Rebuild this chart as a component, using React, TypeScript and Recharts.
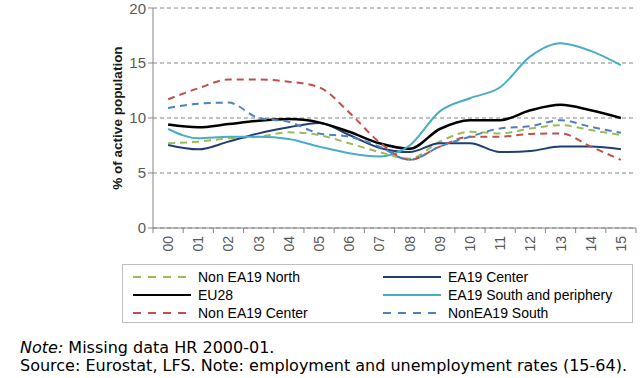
import { LineChart, Line, XAxis, YAxis, CartesianGrid } from 'recharts';

// years 2000-2015, % of active population
const years = ['00', '01', '02', '03', '04', '05', '06', '07', '08', '09', '10', '11', '12', '13', '14', '15'];
const nonEA19North = [7.7, 7.85, 8.15, 8.3, 8.7, 8.45, 7.7, 6.9, 6.3, 7.85, 8.75, 8.6, 9.05, 9.35, 8.9, 8.45];
const eu28 = [9.4, 9.15, 9.45, 9.75, 9.9, 9.6, 8.75, 7.7, 7.2, 9.0, 9.8, 9.8, 10.7, 11.2, 10.7, 10.0];
const nonEA19Center = [11.7, 12.7, 13.5, 13.5, 13.3, 12.8, 10.5, 7.8, 6.2, 7.4, 8.3, 8.3, 8.55, 8.6, 7.4, 6.2];
const ea19Center = [7.55, 7.15, 7.85, 8.6, 9.15, 9.55, 8.45, 7.3, 6.9, 7.7, 7.7, 6.9, 7.0, 7.4, 7.4, 7.15];
const ea19South = [9.0, 8.15, 8.3, 8.3, 8.1, 7.4, 6.8, 6.5, 7.5, 10.6, 11.8, 12.8, 15.6, 16.8, 16.1, 14.8];
const nonEA19South = [10.9, 11.3, 11.4, 10.0, 9.65, 8.6, 8.3, 7.4, 6.2, 7.4, 8.3, 9.05, 9.25, 9.8, 9.2, 8.65];
const yTicks = [0, 5, 10, 15, 20];

const series = [
  { key: 'nonEA19North', name: 'Non EA19 North', values: nonEA19North, color: '#9BBB59', dashed: true, width: 2 },
  { key: 'ea19Center', name: 'EA19 Center', values: ea19Center, color: '#1F3F73', dashed: false, width: 2 },
  { key: 'eu28', name: 'EU28', values: eu28, color: '#000000', dashed: false, width: 2.5 },
  { key: 'ea19South', name: 'EA19 South and periphery', values: ea19South, color: '#4BACC6', dashed: false, width: 2 },
  { key: 'nonEA19Center', name: 'Non EA19 Center', values: nonEA19Center, color: '#C0504D', dashed: true, width: 2 },
  { key: 'nonEA19South', name: 'NonEA19 South', values: nonEA19South, color: '#4F81BD', dashed: true, width: 2 },
];

const data = years.map((y, i) => {
  const row: Record<string, string | number> = { year: y };
  series.forEach((s) => { row[s.key] = s.values[i]; });
  return row;
});

const BAND = 483 / years.length;

const XTick = (props: any) => {
  const { x, y, payload, index } = props;
  return (
    <g>
      <line x1={x - BAND / 2} x2={x - BAND / 2} y1={y - 8} y2={y - 3} stroke="#868686" />
      {index === years.length - 1 && (
        <line x1={x + BAND / 2} x2={x + BAND / 2} y1={y - 8} y2={y - 3} stroke="#868686" />
      )}
      <text x={x + 5} y={y} transform={`rotate(-90, ${x + 5}, ${y})`} textAnchor="end"
        fontFamily="Liberation Sans, Arial" fontSize={14} fill="#595959">
        {payload.value}
      </text>
    </g>
  );
};

const LegendItem = ({ s }: { s: typeof series[number] }) => (
  <div style={{ display: 'flex', alignItems: 'center', height: 17.5 }}>
    <svg width={58} height={6} style={{ marginRight: 7 }}>
      <line x1={0} x2={58} y1={3} y2={3} stroke={s.color} strokeWidth={2}
        strokeDasharray={s.dashed ? '8 7' : undefined} />
    </svg>
    <span>{s.name}</span>
  </div>
);

export default function App() {
  return (
    <div style={{ position: 'absolute', left: 0, top: 0, width: 640, height: 378, background: '#fff' }}>
      <LineChart width={640} height={262} data={data} margin={{ top: 8, right: 4, left: 0, bottom: 0 }}>
        <CartesianGrid vertical={false} stroke="#868686" strokeDasharray="4 3" />
        <XAxis dataKey="year" height={34} stroke="#868686" tickLine={false} interval={0} tick={<XTick />}
          padding={{ left: BAND / 2, right: BAND / 2 }} />
        <YAxis domain={[0, 20]} ticks={yTicks} width={153} stroke="#868686" tickSize={5}
          tick={{ fill: '#595959', fontSize: 15, fontFamily: 'Liberation Sans, Arial' }}
          label={{ value: '% of active population', angle: -90, position: 'insideLeft', offset: 0,
            dx: 117, style: { textAnchor: 'middle', fontWeight: 'bold', fontSize: 13.5, fill: '#1a1a1a', fontFamily: 'Liberation Sans, Arial' } }} />
        {series.map((s) => (
          <Line key={s.key} type="monotone" dataKey={s.key} name={s.name} stroke={s.color}
            strokeWidth={s.width} strokeDasharray={s.dashed ? '7 5' : undefined}
            dot={false} isAnimationActive={false} />
        ))}
      </LineChart>
      <div style={{ position: 'absolute', left: 122, top: 264, width: 511, height: 59, border: '1px solid #BFBFBF',
        fontFamily: 'Liberation Sans, Arial', fontSize: 14, color: '#000', display: 'grid',
        gridTemplateColumns: '250px 250px', gridAutoFlow: 'row', paddingLeft: 10, paddingTop: 3, boxSizing: 'border-box' }}>
        {series.map((s) => <LegendItem key={s.key} s={s} />)}
      </div>
      <div style={{ position: 'absolute', left: 20, top: 339, fontFamily: 'DejaVu Sans, Verdana', fontSize: 16, lineHeight: '18px', color: '#000', whiteSpace: 'nowrap' }}>
        <div><i>Note:</i> Missing data HR 2000-01.</div>
        <div>Source: Eurostat, LFS. Note: employment and unemployment rates (15-64).</div>
      </div>
    </div>
  );
}
